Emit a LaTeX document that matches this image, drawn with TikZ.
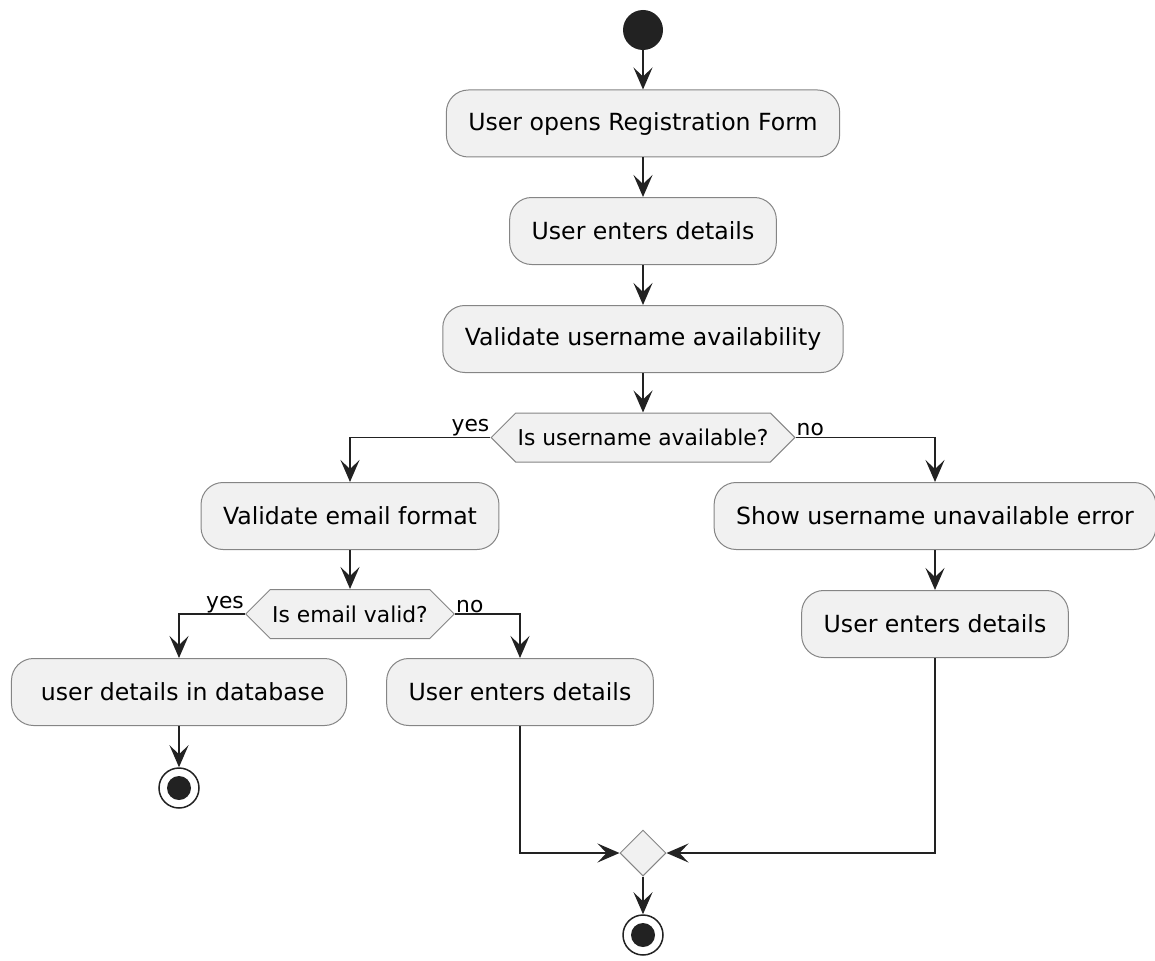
\documentclass[tikz,border=0pt]{standalone}
\usepackage{fontspec}
\setmainfont{DejaVu Sans}
\usetikzlibrary{arrows.meta,shapes.geometric,shapes.symbols}
\definecolor{boxfill}{HTML}{F1F1F1}
\definecolor{boxline}{HTML}{858585}
\definecolor{inkdark}{HTML}{222222}
\tikzset{
  actbox/.style={draw=boxline, line width=1pt, fill=boxfill, rounded corners=22pt,
    minimum height=67pt, inner xsep=22pt, font=\fontsize{23.6}{28}\selectfont},
  decbox/.style={draw=boxline, line width=1pt, fill=boxfill, shape=signal,
    signal to=west and east, signal pointer angle=90, minimum height=49pt,
    inner xsep=2pt, inner ysep=0pt, font=\fontsize{21.8}{26}\selectfont},
  mergebox/.style={draw=boxline, line width=1pt, fill=boxfill, shape=diamond,
    minimum size=46pt, inner sep=0pt},
  startdot/.style={circle, fill=inkdark, minimum size=40pt, inner sep=0pt},
  stopdot/.style={circle, draw=inkdark, line width=1.5pt, fill=white, minimum size=40pt,
    inner sep=0pt, path picture={\fill[inkdark] (path picture bounding box.center) circle (12pt);}},
  flow/.style={draw=inkdark, line width=1.6pt,
    -{Stealth[length=22pt, width=19pt, inset=9pt]}},
  branch/.style={font=\fontsize{21.8}{26}\selectfont, inner sep=1pt}
}
\begin{document}
\begin{tikzpicture}[x=1pt, y=-1pt]
\useasboundingbox (0,0) rectangle (1155,960);

% main column
\node[startdot] (start) at (643,30) {};
\node[actbox] (opens) at (643,123.5) {User opens Registration Form};
\node[actbox] (enters) at (643,231) {User enters details};
\node[actbox] (checkuser) at (643,339) {Validate username availability};
\node[decbox] (isuser) at (643,437.5) {Is username available?};

% username available
\node[actbox] (checkmail) at (350,516) {Validate email format};
\node[decbox] (ismail) at (350,614) {Is email valid?};
\node[actbox] (store) at (179,692) {\ user details in database};
\node[stopdot] (stopleft) at (179,788) {};
\node[actbox] (reenter) at (520,692) {User enters details};

% username taken
\node[actbox] (showerr) at (935,516) {Show username unavailable error};
\node[actbox] (retry) at (935,624) {User enters details};

% merge
\node[mergebox] (merge) at (643,853) {};
\node[stopdot] (stopmain) at (643,935) {};

\draw[flow] (start) -- (opens);
\draw[flow] (opens) -- (enters);
\draw[flow] (enters) -- (checkuser);
\draw[flow] (checkuser) -- (isuser);

\draw[flow] (isuser.west) -| (checkmail.north);
\node[branch, anchor=south east] (yesuser) at (isuser.west) {yes};
\draw[flow] (isuser.east) -| (showerr.north);
\node[branch, anchor=south west] (nouser) at (isuser.east) {no};

\draw[flow] (checkmail) -- (ismail);
\draw[flow] (ismail.west) -| (store.north);
\node[branch, anchor=south east] (yesmail) at (ismail.west) {yes};
\draw[flow] (ismail.east) -| (reenter.north);
\node[branch, anchor=south west] (nomail) at (ismail.east) {no};
\draw[flow] (store) -- (stopleft);

\draw[flow] (showerr) -- (retry);

\draw[flow] (reenter.south) |- (merge.west);
\draw[flow] (retry.south) |- (merge.east);
\draw[flow] (merge) -- (stopmain);
\end{tikzpicture}
\end{document}
